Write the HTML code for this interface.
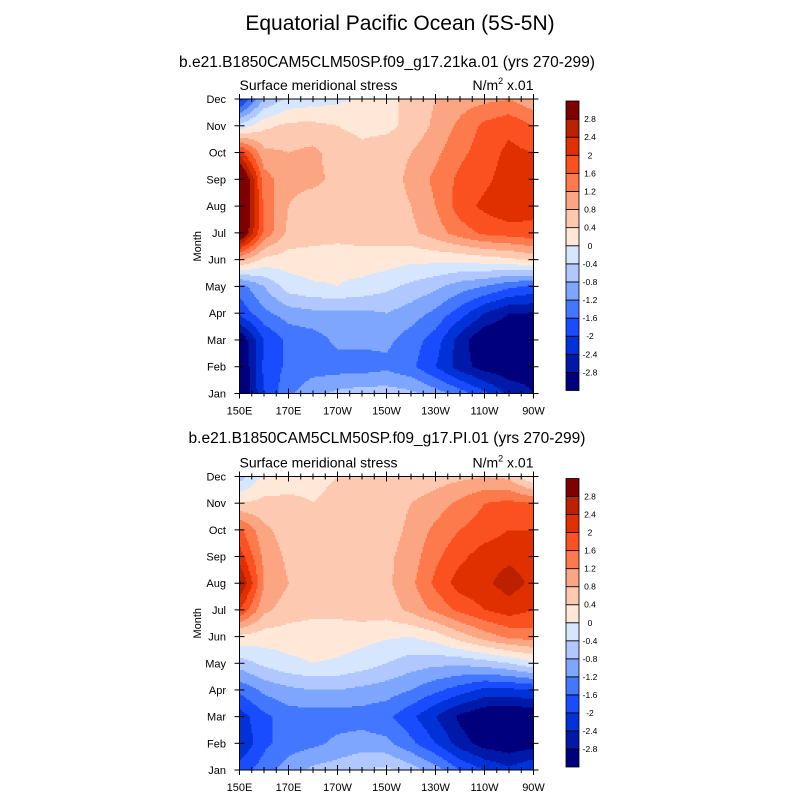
<!DOCTYPE html>
<html><head><meta charset="utf-8"><style>
body{margin:0;background:#fff;}
svg text{font-family:"Liberation Sans",sans-serif;fill:#000;}
</style></head><body>
<svg id="fig" width="800" height="800" xmlns="http://www.w3.org/2000/svg">
<rect width="800" height="800" fill="#fff"/>
<text x="400" y="30" font-size="21" text-anchor="middle">Equatorial Pacific Ocean (5S-5N)</text>
<text x="387" y="67" font-size="15.5" text-anchor="middle">b.e21.B1850CAM5CLM50SP.f09_g17.21ka.01 (yrs 270-299)</text>
<text x="387" y="443" font-size="15.5" text-anchor="middle">b.e21.B1850CAM5CLM50SP.f09_g17.PI.01 (yrs 270-299)</text>
<g id="p1"></g>
<g id="p2"></g>
</svg>
<script>
const months=["Jan","Feb","Mar","Apr","May","Jun","Jul","Aug","Sep","Oct","Nov","Dec"];
const lons=[150,160,170,180,190,200,210,220,230,240,250,260,270];
const lonTicks=[150,170,190,210,230,250,270];
const lonTickLabels=["150E","170E","170W","150W","130W","110W","90W"];
const levels=[-2.8,-2.4,-2,-1.6,-1.2,-0.8,-0.4,0,0.4,0.8,1.2,1.6,2,2.4,2.8];
const levelLabels=["-2.8","-2.4","-2","-1.6","-1.2","-0.8","-0.4","0","0.4","0.8","1.2","1.6","2","2.4","2.8"];
const colors=["#00007f","#0019a8","#0032d8","#1a4cff","#4477ff","#7fa6ff","#b0c8ff","#d7e6ff","#ffe8d8","#fdc9b0","#fca582","#fc7a4c","#fb5020","#e03000","#bb2000","#800000"];
// rows Jan..Dec, columns lons
const field21ka=[
[-3.4,-2.0,-1.3,-0.9,-0.7,-0.6,-0.6,-0.7,-1.0,-1.4,-1.9,-2.5,-2.8],
[-3.4,-1.9,-1.5,-1.4,-1.4,-1.4,-1.3,-1.5,-2.0,-2.6,-3.0,-3.1,-3.0],
[-3.2,-2.0,-1.5,-1.4,-1.1,-1.1,-1.1,-1.4,-1.8,-2.6,-3.2,-3.3,-3.2],
[-1.9,-1.3,-1.0,-0.9,-0.9,-0.9,-0.8,-1.0,-1.3,-1.8,-2.4,-2.8,-2.8],
[-1.4,-0.8,-0.2,-0.05,0.0,-0.1,-0.3,-0.5,-0.7,-1.0,-1.2,-1.5,-1.7],
[0.9,0.3,0.2,0.2,0.1,0.2,0.2,0.1,0.1,0.1,0.2,0.3,0.5],
[3.6,1.5,0.7,0.6,0.6,0.6,0.6,0.7,1.0,1.4,1.7,1.8,1.9],
[3.9,1.5,0.8,0.6,0.6,0.6,0.6,0.8,1.2,1.8,2.1,2.3,2.1],
[3.8,1.4,0.9,0.9,0.7,0.6,0.6,0.9,1.3,1.7,1.9,2.2,2.3],
[2.2,0.9,0.8,0.9,0.6,0.5,0.6,0.8,1.1,1.5,1.8,2.1,2.0],
[-0.3,0.3,0.5,0.5,0.4,0.3,0.3,0.5,0.9,1.3,1.7,1.9,1.6],
[-2.2,-0.8,-0.3,-0.2,-0.1,0.1,0.3,0.5,0.8,1.0,1.1,1.2,0.9]];
const fieldPI=[
[-1.8,-1.4,-1.0,-0.7,-0.6,-0.4,-0.3,-0.6,-1.0,-1.6,-2.0,-2.3,-2.0],
[-2.4,-1.7,-1.4,-1.3,-1.1,-1.0,-1.1,-1.5,-2.0,-2.6,-3.0,-3.1,-3.0],
[-2.2,-1.7,-1.4,-1.4,-1.4,-1.4,-1.5,-1.9,-2.4,-2.9,-3.2,-3.3,-3.2],
[-1.5,-1.1,-0.9,-0.8,-0.8,-0.9,-1.0,-1.2,-1.5,-1.8,-2.1,-2.1,-2.0],
[-0.6,-0.3,-0.1,0.0,-0.05,-0.2,-0.4,-0.6,-0.7,-0.7,-0.6,-0.4,-0.1],
[0.3,0.2,0.2,0.2,0.2,0.15,0.05,0.0,0.2,0.6,1.0,1.3,1.4],
[2.0,0.9,0.6,0.5,0.5,0.6,0.6,0.9,1.3,1.7,2.0,2.2,2.0],
[2.9,1.2,0.8,0.6,0.6,0.6,0.7,1.1,1.7,2.2,2.3,2.6,2.3],
[2.2,1.1,0.7,0.6,0.6,0.6,0.7,1.0,1.5,1.9,2.2,2.3,2.2],
[1.7,0.9,0.6,0.6,0.6,0.6,0.6,0.9,1.3,1.6,1.8,2.0,2.0],
[0.4,0.5,0.5,0.4,0.5,0.5,0.6,0.8,1.0,1.3,1.6,1.7,1.6],
[-0.6,0.1,0.2,0.3,0.4,0.5,0.5,0.5,0.6,0.7,0.8,0.7,0.0]];

const NS="http://www.w3.org/2000/svg";
function mk(tag,attrs,parent){const e=document.createElementNS(NS,tag);for(const k in attrs)e.setAttribute(k,attrs[k]);parent.appendChild(e);return e;}
function colorFor(v){let i=0;while(i<levels.length&&v>=levels[i])i++;return colors[i];}
function clamp(v,a,b){return Math.max(a,Math.min(b,v));}
function sample(f,lon,m){
  const fx=clamp((lon-lons[0])/(lons[1]-lons[0]),0,lons.length-1);
  const fm=clamp(m,0,months.length-1);
  const i=clamp(Math.floor(fx),0,lons.length-2);const tx=fx-i;
  const j=clamp(Math.floor(fm),0,months.length-2);const ty=fm-j;
  const a=f[j][i]*(1-tx)+f[j][i+1]*tx, b=f[j+1][i]*(1-tx)+f[j+1][i+1]*tx;
  return a*(1-ty)+b*ty;
}
function panel(g,field,top,bottom){
  const L=239.5,R=533.5;
  const xS=lon=>L+(lon-lons[0])/(lons[lons.length-1]-lons[0])*(R-L);
  const yS=m=>bottom-m/(months.length-1)*(bottom-top);
  const step=1.5;
  const fg=mk('g',{},g);
  
  
  for(let y=top;y<bottom;y+=step){
    const m=(bottom-(y+step/2))/(bottom-top)*(months.length-1);
    let runStart=L,runCol=null;
    for(let x=L;x<=R+0.001;x+=step){
      let col=null;
      if(x<R){const lon=lons[0]+((x+step/2)-L)/(R-L)*(lons[lons.length-1]-lons[0]);col=colorFor(sample(field,lon,m));}
      if(col!==runCol){
        if(runCol){mk('rect',{x:runStart,y:y,width:Math.min(x,R)-runStart+0.4,height:Math.min(step,bottom-y)+0.4,fill:runCol},fg);}
        runStart=x;runCol=col;
      }
    }
    if(runCol){mk('rect',{x:runStart,y:y,width:R-runStart,height:Math.min(step,bottom-y)+0.4,fill:runCol},fg);}
  }
  mk('rect',{x:L,y:top,width:R-L,height:bottom-top,fill:'none',stroke:'#000','stroke-width':1},g);
  for(let lon=150;lon<=270;lon+=5){
    const major=lonTicks.indexOf(lon)>=0;const x=xS(lon);const len=major?5:3;
    mk('line',{x1:x,x2:x,y1:bottom-len,y2:bottom+len,stroke:'#000'},g);
    mk('line',{x1:x,x2:x,y1:top-len,y2:top+len,stroke:'#000'},g);
  }
  lonTicks.forEach((lon,k)=>{
    const t=mk('text',{x:xS(lon),y:bottom+21,'font-size':11,'text-anchor':'middle'},g);t.textContent=lonTickLabels[k];
    
    
  });
  months.forEach((mo,k)=>{
    const y=yS(k);
    mk('line',{x1:L-5,x2:L+5,y1:y,y2:y,stroke:'#000'},g);
    mk('line',{x1:R-5,x2:R+5,y1:y,y2:y,stroke:'#000'},g);
    const t=mk('text',{x:226,y:y+4,'font-size':11,'text-anchor':'end'},g);t.textContent=mo;
    
    
  });
  const yt=mk('text',{x:0,y:0,'font-size':11,'text-anchor':'middle',transform:'translate(201,'+((top+bottom)/2)+') rotate(-90)'},g);yt.textContent='Month';
  
  
  const lt=mk('text',{x:L,y:top-9,'font-size':14},g);lt.textContent='Surface meridional stress';
  
  
  const ut=mk('text',{x:R,y:top-9,'font-size':14,'text-anchor':'end'},g);
  const t1=mk('tspan',{},ut);t1.textContent='N/m';
  const t2=mk('tspan',{'font-size':9,dy:-6},ut);t2.textContent='2';
  const t3=mk('tspan',{dy:6},ut);t3.textContent=' x.01';
  
  
  const cb=mk('g',{},g);
  
  
  const cT=top+2,cB=bottom-3,n=colors.length,h=(cB-cT)/n;
  colors.forEach((c,k)=>{mk('rect',{x:566,y:cB-(k+1)*h,width:13,height:h,fill:c,stroke:'#000','stroke-width':0.8},cb);});
  levelLabels.forEach((s,k)=>{const t=mk('text',{x:590,y:cB-(k+1)*h+3,'font-size':8.5,'text-anchor':'middle'},cb);t.textContent=s;});
}
panel(document.getElementById('p1'),field21ka,99,393.5);
panel(document.getElementById('p2'),fieldPI,476.5,770);
</script>
</body></html>
